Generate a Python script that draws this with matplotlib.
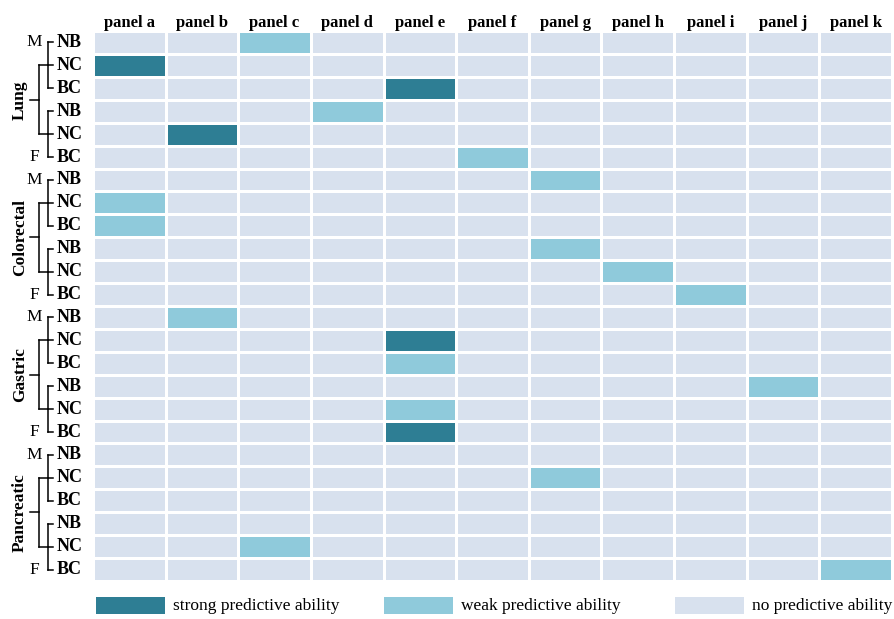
import numpy as np
import matplotlib
matplotlib.use("Agg")
import matplotlib.pyplot as plt
from matplotlib.colors import ListedColormap
from matplotlib.patches import Rectangle

plt.rcParams['font.family'] = ['Liberation Serif', 'DejaVu Serif']

panels = ["panel a", "panel b", "panel c", "panel d", "panel e", "panel f",
          "panel g", "panel h", "panel i", "panel j", "panel k"]
cancers = ["Lung", "Colorectal", "Gastric", "Pancreatic"]
sexes = ["M", "F"]
measures = ["NB", "NC", "BC"]
levels = ["no predictive ability", "weak predictive ability", "strong predictive ability"]

# 0 = none, 1 = weak, 2 = strong; rows per cancer: M NB/NC/BC, F NB/NC/BC
lung = [
    [0, 0, 1, 0, 0, 0, 0, 0, 0, 0, 0],
    [2, 0, 0, 0, 0, 0, 0, 0, 0, 0, 0],
    [0, 0, 0, 0, 2, 0, 0, 0, 0, 0, 0],
    [0, 0, 0, 1, 0, 0, 0, 0, 0, 0, 0],
    [0, 2, 0, 0, 0, 0, 0, 0, 0, 0, 0],
    [0, 0, 0, 0, 0, 1, 0, 0, 0, 0, 0],
]
colorectal = [
    [0, 0, 0, 0, 0, 0, 1, 0, 0, 0, 0],
    [1, 0, 0, 0, 0, 0, 0, 0, 0, 0, 0],
    [1, 0, 0, 0, 0, 0, 0, 0, 0, 0, 0],
    [0, 0, 0, 0, 0, 0, 1, 0, 0, 0, 0],
    [0, 0, 0, 0, 0, 0, 0, 1, 0, 0, 0],
    [0, 0, 0, 0, 0, 0, 0, 0, 1, 0, 0],
]
gastric = [
    [0, 1, 0, 0, 0, 0, 0, 0, 0, 0, 0],
    [0, 0, 0, 0, 2, 0, 0, 0, 0, 0, 0],
    [0, 0, 0, 0, 1, 0, 0, 0, 0, 0, 0],
    [0, 0, 0, 0, 0, 0, 0, 0, 0, 1, 0],
    [0, 0, 0, 0, 1, 0, 0, 0, 0, 0, 0],
    [0, 0, 0, 0, 2, 0, 0, 0, 0, 0, 0],
]
pancreatic = [
    [0, 0, 0, 0, 0, 0, 0, 0, 0, 0, 0],
    [0, 0, 0, 0, 0, 0, 1, 0, 0, 0, 0],
    [0, 0, 0, 0, 0, 0, 0, 0, 0, 0, 0],
    [0, 0, 0, 0, 0, 0, 0, 0, 0, 0, 0],
    [0, 0, 1, 0, 0, 0, 0, 0, 0, 0, 0],
    [0, 0, 0, 0, 0, 0, 0, 0, 0, 0, 1],
]

colors = ["#d8e1ee", "#8fcadb", "#2e7e94"]

matrix = np.array(lung + colorectal + gastric + pancreatic)
n_rows, n_cols = matrix.shape

W, H = 894, 619
fig = plt.figure(figsize=(W / 100, H / 100), dpi=100)

# grid extents in pixels
gx0, gx1, gy0, gy1 = 93, 892, 31, 581
ax = fig.add_axes([gx0 / W, 1 - gy1 / H, (gx1 - gx0) / W, (gy1 - gy0) / H])
cmap = ListedColormap(colors)
ax.pcolormesh(np.arange(n_cols + 1), np.arange(n_rows + 1), matrix,
              cmap=cmap, vmin=-0.5, vmax=2.5, edgecolors="white", linewidth=1.0)
ax.set_xlim(0, n_cols)
ax.set_ylim(n_rows, 0)
ax.set_xticks(np.arange(n_cols) + 0.5)
ax.set_xticklabels(panels, fontsize=12, fontweight="bold")
ax.xaxis.tick_top()
ax.tick_params(axis="x", length=0, pad=0)
ax.set_yticks([])
for s in ax.spines.values():
    s.set_visible(False)

# overlay in pixel coordinates for the row brackets and legend
ov = fig.add_axes([0, 0, 1, 1], zorder=-1)
ov.set_xlim(0, W)
ov.set_ylim(H, 0)
ov.axis("off")
ov.patch.set_alpha(0)

rowh = (gy1 - gy0) / n_rows
def ymid(i):
    return gy0 + (i + 0.5) * rowh

lw = 1.1
x_text, x_lab, x_inner, x_outer, x_stub = 57, 53, 48, 39, 30
for c, cancer in enumerate(cancers):
    group_mids = []
    for s, sex in enumerate(sexes):
        base = c * 6 + s * 3
        for m, meas in enumerate(measures):
            y = ymid(base + m)
            ov.text(x_text, y, meas, fontsize=13, fontweight="bold",
                    ha="left", va="center")
            ov.plot([x_inner, x_lab], [y, y], color="black", lw=lw)
        ov.plot([x_inner, x_inner], [ymid(base), ymid(base + 2)], color="black", lw=lw)
        gm = ymid(base + 1)
        group_mids.append(gm)
        ov.plot([x_outer, x_inner], [gm, gm], color="black", lw=lw)
    ov.text(34, ymid(c * 6), "M", fontsize=12.5, ha="center", va="center")
    ov.text(34, ymid(c * 6 + 5), "F", fontsize=12.5, ha="center", va="center")
    ov.plot([x_outer, x_outer], group_mids, color="black", lw=lw)
    cm = (group_mids[0] + group_mids[1]) / 2
    ov.plot([x_stub, x_outer], [cm, cm], color="black", lw=lw)
    ov.text(20, cm, cancer, fontsize=12.5, fontweight="bold", rotation=90,
            ha="center", va="center")

# legend row
legend_items = [(2, 96), (1, 384), (0, 675)]
for lvl, x in legend_items:
    ov.add_patch(Rectangle((x, 597), 69, 17, facecolor=colors[lvl], edgecolor="none"))
    ov.text(x + 77, 605.5, levels[lvl], fontsize=12.5, ha="left", va="center")

fig.savefig("out.png", dpi=100)
